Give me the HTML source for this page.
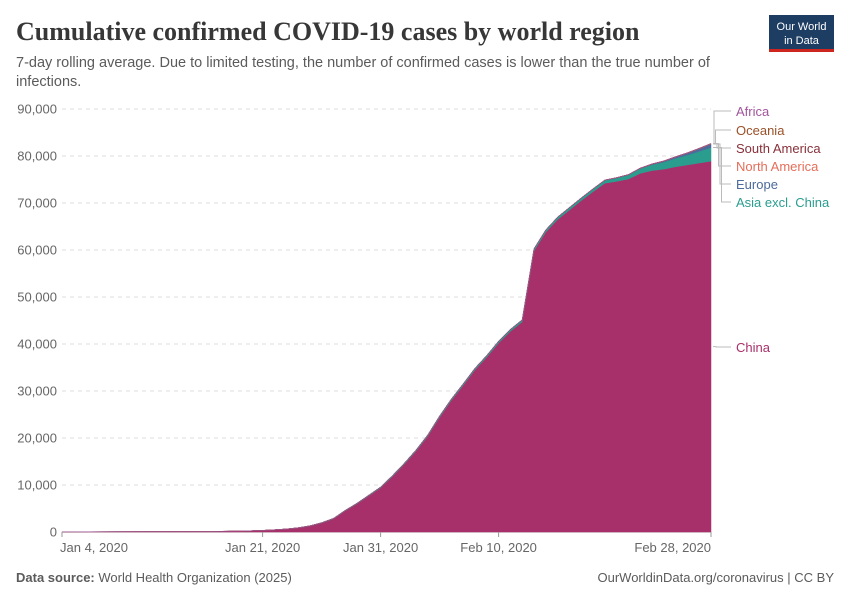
<!DOCTYPE html>
<html><head><meta charset="utf-8"><style>
body{margin:0;background:#fff;font-family:"Liberation Sans",sans-serif;}
svg{display:block}
</style></head><body>
<svg id="c" width="850" height="600" xmlns="http://www.w3.org/2000/svg">
<text x="16" y="40" font-family="Liberation Serif,serif" font-size="26" font-weight="bold" fill="#373737">Cumulative confirmed COVID-19 cases by world region</text>
<text x="16" y="67" font-size="14.5" fill="#5b5b5b">7-day rolling average. Due to limited testing, the number of confirmed cases is lower than the true number of</text>
<text x="16" y="86" font-size="14.5" fill="#5b5b5b">infections.</text>
<g><rect x="769" y="15" width="65" height="35" fill="#1d3d63"/><rect x="769" y="49" width="65" height="3" fill="#ce261e"/>
<text x="801.5" y="30" font-size="11" fill="#fff" text-anchor="middle">Our World</text><text x="801.5" y="44" font-size="11" fill="#fff" text-anchor="middle">in Data</text></g>
<g id="grid"></g><g id="areas"></g><g id="xaxis"></g><g id="legend"></g>
<text x="16" y="582" font-size="13" fill="#5b5b5b"><tspan font-weight="bold">Data source:</tspan> World Health Organization (2025)</text>
<text x="834" y="582" font-size="13" fill="#5b5b5b" text-anchor="end">OurWorldinData.org/coronavirus | CC BY</text>
</svg>
<script>
const NS="http://www.w3.org/2000/svg";
const xTickLabels=["Jan 4, 2020","Jan 21, 2020","Jan 31, 2020","Feb 10, 2020","Feb 28, 2020"];
const xTickDays=[0,17,27,37,55];
const yTicks=[0,10000,20000,30000,40000,50000,60000,70000,80000,90000];
const seriesNames=["China","Asia excl. China","Europe","North America","South America","Oceania","Africa"];
const seriesColors=["#a8306a","#2a9d8f","#4c6a9c","#e56e5a","#883039","#9a5129","#a2559c"];
const china=[40,45,50,55,60,65,70,75,80,90,100,110,120,140,160,200,250,330,450,600,850,1250,1900,2800,4500,6000,7700,9400,11800,14400,17200,20400,24400,28000,31200,34500,37200,40200,42700,44700,59800,63800,66500,68500,70500,72400,74200,74600,75100,76300,76900,77200,77700,78100,78500,78900];
const asia=[0,0,0,0,0,0,0,0,0,1,1,2,3,5,8,10,15,20,30,40,50,60,70,80,90,100,120,140,160,180,200,220,240,260,280,300,320,340,360,380,400,420,440,470,500,540,600,700,850,1000,1250,1500,1800,2100,2500,2900];
const europe=[0,0,0,0,0,0,0,0,0,0,0,0,0,0,0,0,0,0,0,1,2,3,5,8,10,12,15,18,20,25,28,30,32,35,38,40,42,44,45,46,46,46,46,46,46,47,47,48,50,60,100,180,280,400,550,750];
const namerica=[0,0,0,0,0,0,0,0,0,0,0,0,0,0,0,0,0,0,1,2,3,4,5,6,7,8,9,10,11,12,13,14,15,15,16,17,18,18,19,20,20,21,22,25,30,35,40,45,50,55,60,65,70,75,80,90];
const samerica=[0,0,0,0,0,0,0,0,0,0,0,0,0,0,0,0,0,0,0,0,0,0,0,0,0,0,0,0,0,0,0,0,0,0,0,0,0,0,0,0,0,0,0,0,0,0,0,0,0,0,0,0,0,0,1,1];
const oceania=[0,0,0,0,0,0,0,0,0,0,0,0,0,0,0,0,0,0,0,0,0,1,2,3,4,5,7,8,9,10,11,12,12,13,14,15,15,15,15,15,15,15,15,15,15,15,15,15,17,18,20,22,23,23,23,24];
const africa=[0,0,0,0,0,0,0,0,0,0,0,0,0,0,0,0,0,0,0,0,0,0,0,0,0,0,0,0,0,0,0,0,0,0,0,0,0,0,0,0,0,1,1,1,1,1,1,1,1,1,1,1,1,1,1,2];
const series=[china,asia,europe,namerica,samerica,oceania,africa];
const X0=62,X1=711,Y0=532,Y1=109,NDAYS=55,YMAX=90000;
const sx=d=>X0+(X1-X0)*d/NDAYS, sy=v=>Y0-(Y0-Y1)*v/YMAX;
const grid=document.getElementById('grid');
yTicks.forEach(t=>{
 const l=document.createElementNS(NS,'line');
 l.setAttribute('x1',X0);l.setAttribute('x2',X1);l.setAttribute('y1',sy(t));l.setAttribute('y2',sy(t));
 l.setAttribute('stroke',t===0?'#999':'#ddd');l.setAttribute('stroke-dasharray',t===0?'':'4,4');
 
 
 grid.appendChild(l);
 const tx=document.createElementNS(NS,'text');
 tx.setAttribute('x',57);tx.setAttribute('y',sy(t)+4.5);tx.setAttribute('text-anchor','end');tx.setAttribute('font-size','13');tx.setAttribute('fill','#666');
 tx.textContent=t.toLocaleString('en-US');
 
 
 grid.appendChild(tx);
});
const areas=document.getElementById('areas');
let base=china.map(()=>0);
const tops=[];
series.forEach((s,i)=>{
 const top=s.map((v,d)=>base[d]+v);
 let p='M'+top.map((v,d)=>sx(d)+','+sy(v)).join('L');
 for(let d=s.length-1;d>=0;d--)p+='L'+sx(d)+','+sy(base[d]);
 p+='Z';
 const el=document.createElementNS(NS,'path');
 el.setAttribute('d',p);el.setAttribute('fill',seriesColors[i]);el.setAttribute('stroke',seriesColors[i]);el.setAttribute('stroke-width','0.5');
 
 
 areas.appendChild(el);
 tops.push(top[top.length-1]);base=top;
});
const xa=document.getElementById('xaxis');
xTickDays.forEach((d,i)=>{
 const l=document.createElementNS(NS,'line');
 l.setAttribute('x1',sx(d));l.setAttribute('x2',sx(d));l.setAttribute('y1',Y0);l.setAttribute('y2',Y0+5);l.setAttribute('stroke','#999');
 
 
 xa.appendChild(l);
 const t=document.createElementNS(NS,'text');
 t.setAttribute('x',sx(d));t.setAttribute('y',552);t.setAttribute('font-size','13');t.setAttribute('fill','#666');
 t.setAttribute('text-anchor',i===xTickDays.length-1?'end':'middle');
 if(i===0){t.setAttribute('x',sx(d)-2);t.setAttribute('text-anchor','start');}
 t.textContent=xTickLabels[i];
 
 
 xa.appendChild(t);
});
const lg=document.getElementById('legend');
const labelY=[347,202,184,166,148,130,111];
series.forEach((s,i)=>{
 const yv=i===0?sy(china[china.length-1]/2):sy(tops[i]);
 const ly=labelY[i];
 const pth=document.createElementNS(NS,'path');
 const mx=i===0?716:714+ (6-i)*1.5;
 pth.setAttribute('d',`M${X1+2},${yv}H${mx}V${ly}H731`);
 pth.setAttribute('fill','none');pth.setAttribute('stroke','#bbb');pth.setAttribute('stroke-width','1');
 
 
 lg.appendChild(pth);
 const t=document.createElementNS(NS,'text');
 t.setAttribute('x',736);t.setAttribute('y',ly+5);t.setAttribute('font-size','13');t.setAttribute('fill',seriesColors[i]);
 t.textContent=seriesNames[i];
 
 
 lg.appendChild(t);
});
</script>
</body></html>
